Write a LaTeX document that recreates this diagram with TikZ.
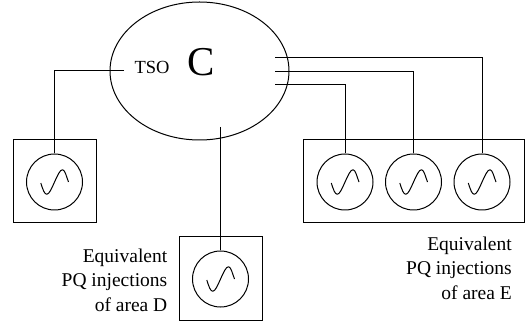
\documentclass[tikz,border=0pt]{standalone}
\usepackage{fontspec}
\setmainfont{Liberation Serif}
\usetikzlibrary{shapes.geometric}
\tikzset{
  x=1pt,y=-1pt,
  wire/.style={draw=black,line width=1pt},
  box/.style={draw=black,line width=1pt,inner sep=0pt,minimum width=83pt,minimum height=83pt},
  widebox/.style={box,minimum width=221pt},
  gen/.style={draw=black,circle,line width=1pt,inner sep=0pt,minimum size=56pt},
  lab/.style={inner sep=0pt,align=right,anchor=east,font=\fontsize{19.5}{24.5}\selectfont},
  pic sine/.style={}
}
\newcommand{\sinewave}[1]{\draw[wire,line join=round] ([shift={(-13.7,1)}]#1.center) .. controls ([shift={(-11.5,8)}]#1.center) and ([shift={(-10,12.3)}]#1.center) .. ([shift={(-7.7,12.3)}]#1.center) .. controls ([shift={(-3,12.3)}]#1.center) and ([shift={(3,-12.3)}]#1.center) .. ([shift={(8,-12.3)}]#1.center) .. controls ([shift={(10.5,-12.3)}]#1.center) and ([shift={(12,-5)}]#1.center) .. ([shift={(14,0)}]#1.center);}
\begin{document}
\begin{tikzpicture}
\useasboundingbox (0,0) rectangle (529,328);
\node[ellipse,draw=black,line width=1pt,inner sep=0pt,minimum width=179pt,minimum height=138pt] (area) at (199.5,71) {};
\node[inner sep=0pt,anchor=base,font=\fontsize{18.5}{20}\selectfont] (tso) at (152,74) {TSO};
\node[inner sep=0pt,anchor=base,font=\fontsize{41}{44}\selectfont] (c) at (201,75.5) {C};
\node[box] (boxA) at (54.5,181.5) {};
\node[box] (boxD) at (220.5,278.5) {};
\node[widebox] (boxE) at (413.5,181.5) {};
\node[gen] (g1) at (54.5,182) {};
\node[gen] (g2) at (220.5,279) {};
\node[gen] (g3) at (345,182) {};
\node[gen] (g4) at (413.5,182) {};
\node[gen] (g5) at (482,182) {};
\sinewave{g1}\sinewave{g2}\sinewave{g3}\sinewave{g4}\sinewave{g5}
\coordinate (w1) at (124,71);
\coordinate (w2) at (220.5,127);
\coordinate (w3) at (275,85);
\coordinate (w4) at (275,71.5);
\coordinate (w5) at (275,57.5);
\draw[wire] (w1) -| (g1.north);
\draw[wire] (w2) -- (g2.north);
\draw[wire] (w3) -| (g3.north);
\draw[wire] (w4) -| (g4.north);
\draw[wire] (w5) -| (g5.north);
\node[lab] (labD) at (167.5,280) {Equivalent\\PQ injections\\of area D};
\node[lab] (labE) at (512,268) {Equivalent\\PQ injections\\of area E};
\end{tikzpicture}
\end{document}
